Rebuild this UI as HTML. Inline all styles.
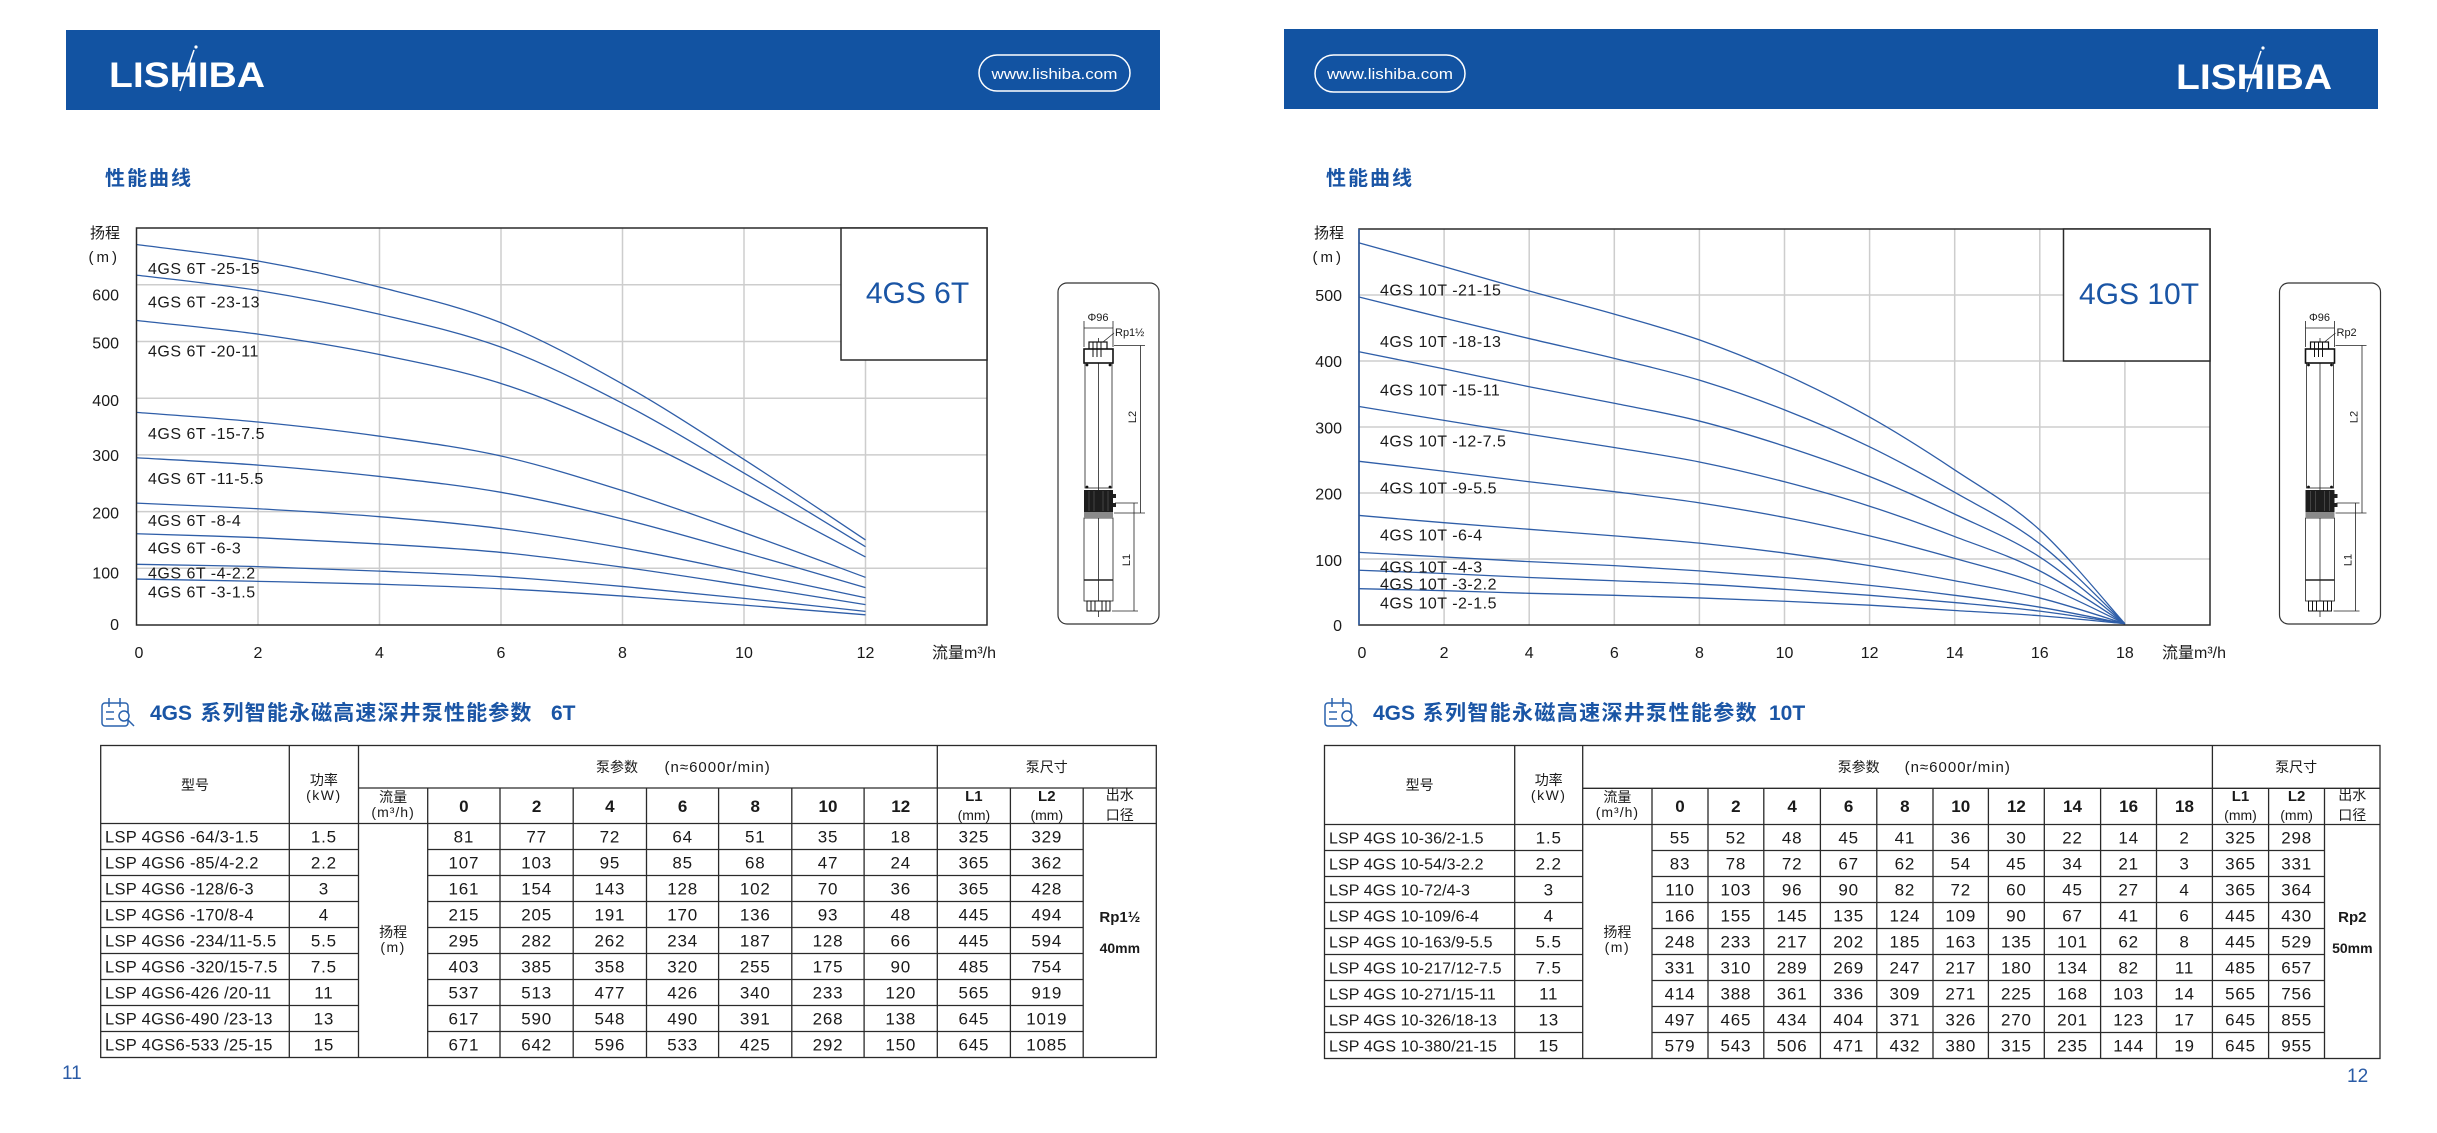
<!DOCTYPE html>
<html><head><meta charset="utf-8">
<style>
html,body{margin:0;padding:0;background:#fff;}
svg{display:block}
text{font-family:"Liberation Sans","Noto Sans CJK SC",sans-serif;fill:#1a1a1a}
.w{fill:#fff}
.b{fill:#1a55a5}
</style></head>
<body>
<svg width="2437" height="1133" viewBox="0 0 2437 1133" xmlns="http://www.w3.org/2000/svg">
<rect width="2437" height="1133" fill="#fff"/>

<!-- ===== HEADERS ===== -->
<rect x="66" y="30" width="1094" height="80" fill="#1253a2"/>
<text x="109" y="87" font-size="35" font-weight="bold" class="w" textLength="156" lengthAdjust="spacingAndGlyphs">LISHIBA</text>
<line x1="180" y1="91" x2="194" y2="50" stroke="#fff" stroke-width="1.5"/>
<circle cx="196" cy="47" r="1.6" fill="#fff"/>
<rect x="979" y="55" width="151" height="36" rx="18" fill="none" stroke="#fff" stroke-width="1.5"/>
<text x="1054.5" y="79" font-size="15" class="w" text-anchor="middle" textLength="126" lengthAdjust="spacingAndGlyphs">www.lishiba.com</text>

<rect x="1284" y="29" width="1094" height="80" fill="#1253a2"/>
<text x="2176" y="89" font-size="35" font-weight="bold" class="w" textLength="156" lengthAdjust="spacingAndGlyphs">LISHIBA</text>
<line x1="2247" y1="92" x2="2261" y2="51" stroke="#fff" stroke-width="1.5"/>
<circle cx="2263" cy="48" r="1.6" fill="#fff"/>
<rect x="1315" y="55" width="150" height="37" rx="18.5" fill="none" stroke="#fff" stroke-width="1.5"/>
<text x="1390" y="79" font-size="15" class="w" text-anchor="middle" textLength="126" lengthAdjust="spacingAndGlyphs">www.lishiba.com</text>

<text x="105" y="185" font-size="20" font-weight="bold" class="b" letter-spacing="2">性能曲线</text>
<text x="1326" y="185" font-size="20" font-weight="bold" class="b" letter-spacing="2">性能曲线</text>

<!-- ===== CHART 6T ===== -->
<g stroke="#cdcdcd" stroke-width="1.5">
<line x1="258" y1="228" x2="258" y2="625"/><line x1="379.5" y1="228" x2="379.5" y2="625"/>
<line x1="501" y1="228" x2="501" y2="625"/><line x1="622.5" y1="228" x2="622.5" y2="625"/>
<line x1="744" y1="228" x2="744" y2="625"/><line x1="865.5" y1="228" x2="865.5" y2="625"/>
<line x1="136.5" y1="568.3" x2="987" y2="568.3"/><line x1="136.5" y1="511.6" x2="987" y2="511.6"/>
<line x1="136.5" y1="454.9" x2="987" y2="454.9"/><line x1="136.5" y1="398.2" x2="987" y2="398.2"/>
<line x1="136.5" y1="341.5" x2="987" y2="341.5"/><line x1="136.5" y1="284.8" x2="987" y2="284.8"/>
</g>
<g transform="translate(136.5,625) scale(60.75,-0.567)" fill="none" stroke="#2f5ea8" stroke-width="1.3">
<polyline class="s" vector-effect="non-scaling-stroke" points="0,671 2,642 4,596 6,533 8,425 10,292 12,150"/>
<polyline class="s" vector-effect="non-scaling-stroke" points="0,617 2,590 4,548 6,490 8,391 10,268 12,138"/>
<polyline class="s" vector-effect="non-scaling-stroke" points="0,537 2,513 4,477 6,426 8,340 10,233 12,120"/>
<polyline class="s" vector-effect="non-scaling-stroke" points="0,375 2,358 4,333 6,298 8,237 10,163 12,84"/>
<polyline class="s" vector-effect="non-scaling-stroke" points="0,295 2,282 4,262 6,234 8,187 10,128 12,66"/>
<polyline class="s" vector-effect="non-scaling-stroke" points="0,215 2,205 4,191 6,170 8,136 10,93 12,48"/>
<polyline class="s" vector-effect="non-scaling-stroke" points="0,161 2,154 4,143 6,128 8,102 10,70 12,36"/>
<polyline class="s" vector-effect="non-scaling-stroke" points="0,107 2,103 4,95 6,85 8,68 10,47 12,24"/>
<polyline class="s" vector-effect="non-scaling-stroke" points="0,81 2,77 4,72 6,64 8,51 10,35 12,18"/>
</g>
<rect x="136.5" y="228" width="850.5" height="397" fill="none" stroke="#2a2a2a" stroke-width="1.5"/>
<rect x="841" y="228" width="146" height="132" fill="#fff" stroke="#2a2a2a" stroke-width="1.5"/>
<text x="917.5" y="303" font-size="30" text-anchor="middle" class="b">4GS 6T</text>

<g font-size="16" letter-spacing="0.5">
<text x="148" y="274">4GS 6T -25-15</text>
<text x="148" y="307.7">4GS 6T -23-13</text>
<text x="148" y="356.7">4GS 6T -20-11</text>
<text x="148" y="439">4GS 6T -15-7.5</text>
<text x="148" y="484">4GS 6T -11-5.5</text>
<text x="148" y="526">4GS 6T -8-4</text>
<text x="148" y="553.7">4GS 6T -6-3</text>
<text x="148" y="578.7">4GS 6T -4-2.2</text>
<text x="148" y="597.7">4GS 6T -3-1.5</text>
</g>
<g font-size="16" text-anchor="end">
<text x="119" y="300.3">600</text><text x="119" y="348.3">500</text><text x="119" y="406">400</text>
<text x="119" y="461">300</text><text x="119" y="518.3">200</text><text x="119" y="578.7">100</text>
<text x="119" y="630">0</text>
</g>
<text x="120" y="238" font-size="15" text-anchor="end">扬程</text>
<text x="120" y="262" font-size="15" text-anchor="end" letter-spacing="3">(m)</text>
<g font-size="16" text-anchor="middle">
<text x="139" y="658">0</text><text x="258" y="658">2</text><text x="379.5" y="658">4</text>
<text x="501" y="658">6</text><text x="622.5" y="658">8</text><text x="744" y="658">10</text>
<text x="865.5" y="658">12</text>
</g>
<text x="932" y="658" font-size="16">流量m³/h</text>

<!-- pump 6T -->
<rect x="1058" y="283" width="101" height="341" rx="9" fill="none" stroke="#333" stroke-width="1.2"/>
<g>
<g stroke="#222" stroke-width="0.8" fill="none">
<line x1="1084" y1="321" x2="1084" y2="347"/><line x1="1113" y1="321" x2="1113" y2="347"/>
<line x1="1084" y1="328" x2="1113" y2="328"/><line x1="1103" y1="342" x2="1114" y2="333"/>
<line x1="1098.5" y1="338" x2="1098.5" y2="617"/>
<line x1="1114" y1="345.5" x2="1145" y2="345.5"/><line x1="1114" y1="513" x2="1145" y2="513"/>
<line x1="1140.5" y1="345.5" x2="1140.5" y2="513"/>
<line x1="1115" y1="503" x2="1138" y2="503"/><line x1="1112" y1="611" x2="1138" y2="611"/>
<line x1="1134" y1="503" x2="1134" y2="611"/>
<rect x="1085" y="363" width="27" height="125"/>
<rect x="1084" y="518" width="29" height="83"/>
<line x1="1084" y1="580" x2="1113" y2="580" stroke-width="1.6"/>
</g>
<rect x="1089" y="342" width="18" height="8" fill="#fff" stroke="#111" stroke-width="1.2"/>
<rect x="1084" y="349" width="29" height="14" fill="#fff" stroke="#111" stroke-width="1.6"/>
<g stroke="#111" stroke-width="1"><line x1="1093" y1="342" x2="1093" y2="357"/><line x1="1097" y1="342" x2="1097" y2="357"/><line x1="1101" y1="342" x2="1101" y2="357"/></g>
<rect x="1084" y="490" width="29" height="22" fill="#1d1d1d"/>
<g stroke="#555" stroke-width="0.7"><line x1="1089" y1="491" x2="1089" y2="511"/><line x1="1094" y1="491" x2="1094" y2="511"/><line x1="1103" y1="491" x2="1103" y2="511"/><line x1="1108" y1="491" x2="1108" y2="511"/></g>
<rect x="1113" y="494" width="3" height="4" fill="#222"/><rect x="1113" y="503" width="3" height="4" fill="#222"/>
<rect x="1084" y="512" width="29" height="6" fill="#8a8a8a"/>
<rect x="1087" y="601" width="23" height="10" fill="#fff" stroke="#111" stroke-width="1"/>
<g stroke="#111" stroke-width="1"><line x1="1091" y1="601" x2="1091" y2="611"/><line x1="1095" y1="601" x2="1095" y2="611"/><line x1="1102" y1="601" x2="1102" y2="611"/><line x1="1106" y1="601" x2="1106" y2="611"/></g>
<circle cx="1087" cy="365" r="1.4" fill="#111"/><circle cx="1110" cy="365" r="1.4" fill="#111"/>
<circle cx="1087" cy="487" r="1.4" fill="#111"/><circle cx="1110" cy="487" r="1.4" fill="#111"/>
<text x="1098" y="321" font-size="11" text-anchor="middle">Φ96</text>
<text transform="translate(1136,417) rotate(-90)" font-size="11" text-anchor="middle">L2</text>
<text transform="translate(1130,560) rotate(-90)" font-size="11" text-anchor="middle">L1</text>
</g>
<text x="1115" y="336" font-size="11">Rp1½</text>

<!-- ===== CHART 10T ===== -->
<g stroke="#cdcdcd" stroke-width="1.5">
<line x1="1444.1" y1="229" x2="1444.1" y2="625"/><line x1="1529.2" y1="229" x2="1529.2" y2="625"/>
<line x1="1614.3" y1="229" x2="1614.3" y2="625"/><line x1="1699.4" y1="229" x2="1699.4" y2="625"/>
<line x1="1784.5" y1="229" x2="1784.5" y2="625"/><line x1="1869.6" y1="229" x2="1869.6" y2="625"/>
<line x1="1954.7" y1="229" x2="1954.7" y2="625"/><line x1="2039.8" y1="229" x2="2039.8" y2="625"/>
<line x1="2124.9" y1="229" x2="2124.9" y2="625"/>
<line x1="1359" y1="559" x2="2210" y2="559"/><line x1="1359" y1="493" x2="2210" y2="493"/>
<line x1="1359" y1="427" x2="2210" y2="427"/><line x1="1359" y1="361" x2="2210" y2="361"/>
<line x1="1359" y1="295" x2="2210" y2="295"/>
</g>
<g transform="translate(1359,625) scale(42.55,-0.66)" fill="none" stroke="#2f5ea8" stroke-width="1.3">
<polyline class="s" vector-effect="non-scaling-stroke" points="0,579 2,543 4,506 6,471 8,432 10,380 12,315 14,235 16,144 18,2"/>
<polyline class="s" vector-effect="non-scaling-stroke" points="0,497 2,465 4,434 6,404 8,371 10,326 12,270 14,201 16,123 18,2"/>
<polyline class="s" vector-effect="non-scaling-stroke" points="0,414 2,388 4,361 6,336 8,309 10,271 12,225 14,168 16,103 18,2"/>
<polyline class="s" vector-effect="non-scaling-stroke" points="0,331 2,310 4,289 6,269 8,247 10,217 12,180 14,134 16,82 18,2"/>
<polyline class="s" vector-effect="non-scaling-stroke" points="0,248 2,233 4,217 6,202 8,185 10,163 12,135 14,101 16,62 18,2"/>
<polyline class="s" vector-effect="non-scaling-stroke" points="0,166 2,155 4,145 6,135 8,124 10,109 12,90 14,67 16,41 18,2"/>
<polyline class="s" vector-effect="non-scaling-stroke" points="0,110 2,103 4,96 6,90 8,82 10,72 12,60 14,45 16,27 18,2"/>
<polyline class="s" vector-effect="non-scaling-stroke" points="0,83 2,78 4,72 6,67 8,62 10,54 12,45 14,34 16,21 18,2"/>
<polyline class="s" vector-effect="non-scaling-stroke" points="0,55 2,52 4,48 6,45 8,41 10,36 12,30 14,22 16,14 18,2"/>
</g>
<rect x="1359" y="229" width="851" height="396" fill="none" stroke="#2a2a2a" stroke-width="1.5"/>
<line x1="1359" y1="229" x2="1359" y2="625" stroke="#2f5ea8" stroke-width="1.5"/>
<rect x="2063.5" y="229" width="146.5" height="132" fill="#fff" stroke="#2a2a2a" stroke-width="1.5"/>
<text x="2139" y="304" font-size="30" text-anchor="middle" class="b">4GS 10T</text>

<g font-size="16" letter-spacing="0.5">
<text x="1380" y="295.3">4GS 10T -21-15</text>
<text x="1380" y="347">4GS 10T -18-13</text>
<text x="1380" y="395.3">4GS 10T -15-11</text>
<text x="1380" y="446.7">4GS 10T -12-7.5</text>
<text x="1380" y="493.3">4GS 10T -9-5.5</text>
<text x="1380" y="540.3">4GS 10T -6-4</text>
<text x="1380" y="572.7">4GS 10T -4-3</text>
<text x="1380" y="589.3">4GS 10T -3-2.2</text>
<text x="1380" y="608.7">4GS 10T -2-1.5</text>
</g>
<g font-size="16" text-anchor="end">
<text x="1342" y="301">500</text><text x="1342" y="367">400</text><text x="1342" y="433.7">300</text>
<text x="1342" y="499.3">200</text><text x="1342" y="566">100</text><text x="1342" y="631">0</text>
</g>
<text x="1344" y="238" font-size="15" text-anchor="end">扬程</text>
<text x="1344" y="262" font-size="15" text-anchor="end" letter-spacing="3">(m)</text>
<g font-size="16" text-anchor="middle">
<text x="1362" y="658">0</text><text x="1444.1" y="658">2</text><text x="1529.2" y="658">4</text>
<text x="1614.3" y="658">6</text><text x="1699.4" y="658">8</text><text x="1784.5" y="658">10</text>
<text x="1869.6" y="658">12</text><text x="1954.7" y="658">14</text><text x="2039.8" y="658">16</text>
<text x="2124.9" y="658">18</text>
</g>
<text x="2162" y="658" font-size="16">流量m³/h</text>

<!-- pump 10T -->
<rect x="2279.5" y="283" width="101" height="341" rx="9" fill="none" stroke="#333" stroke-width="1.2"/>
<g transform="translate(1221.5,0)">
<g stroke="#222" stroke-width="0.8" fill="none">
<line x1="1084" y1="321" x2="1084" y2="347"/><line x1="1113" y1="321" x2="1113" y2="347"/>
<line x1="1084" y1="328" x2="1113" y2="328"/><line x1="1103" y1="342" x2="1114" y2="333"/>
<line x1="1098.5" y1="338" x2="1098.5" y2="617"/>
<line x1="1114" y1="345.5" x2="1145" y2="345.5"/><line x1="1114" y1="513" x2="1145" y2="513"/>
<line x1="1140.5" y1="345.5" x2="1140.5" y2="513"/>
<line x1="1115" y1="503" x2="1138" y2="503"/><line x1="1112" y1="611" x2="1138" y2="611"/>
<line x1="1134" y1="503" x2="1134" y2="611"/>
<rect x="1085" y="363" width="27" height="125"/>
<rect x="1084" y="518" width="29" height="83"/>
<line x1="1084" y1="580" x2="1113" y2="580" stroke-width="1.6"/>
</g>
<rect x="1089" y="342" width="18" height="8" fill="#fff" stroke="#111" stroke-width="1.2"/>
<rect x="1084" y="349" width="29" height="14" fill="#fff" stroke="#111" stroke-width="1.6"/>
<g stroke="#111" stroke-width="1"><line x1="1093" y1="342" x2="1093" y2="357"/><line x1="1097" y1="342" x2="1097" y2="357"/><line x1="1101" y1="342" x2="1101" y2="357"/></g>
<rect x="1084" y="490" width="29" height="22" fill="#1d1d1d"/>
<g stroke="#555" stroke-width="0.7"><line x1="1089" y1="491" x2="1089" y2="511"/><line x1="1094" y1="491" x2="1094" y2="511"/><line x1="1103" y1="491" x2="1103" y2="511"/><line x1="1108" y1="491" x2="1108" y2="511"/></g>
<rect x="1113" y="494" width="3" height="4" fill="#222"/><rect x="1113" y="503" width="3" height="4" fill="#222"/>
<rect x="1084" y="512" width="29" height="6" fill="#8a8a8a"/>
<rect x="1087" y="601" width="23" height="10" fill="#fff" stroke="#111" stroke-width="1"/>
<g stroke="#111" stroke-width="1"><line x1="1091" y1="601" x2="1091" y2="611"/><line x1="1095" y1="601" x2="1095" y2="611"/><line x1="1102" y1="601" x2="1102" y2="611"/><line x1="1106" y1="601" x2="1106" y2="611"/></g>
<circle cx="1087" cy="365" r="1.4" fill="#111"/><circle cx="1110" cy="365" r="1.4" fill="#111"/>
<circle cx="1087" cy="487" r="1.4" fill="#111"/><circle cx="1110" cy="487" r="1.4" fill="#111"/>
<text x="1098" y="321" font-size="11" text-anchor="middle">Φ96</text>
<text transform="translate(1136,417) rotate(-90)" font-size="11" text-anchor="middle">L2</text>
<text transform="translate(1130,560) rotate(-90)" font-size="11" text-anchor="middle">L1</text>
<text x="1115" y="336" font-size="11">Rp2</text>
</g>

<!-- ===== TABLE TITLES ===== -->
<g fill="none" stroke="#2a62ad" stroke-width="1.5">
<rect x="102" y="703" width="26" height="23" rx="3"/>
<line x1="109" y1="698" x2="109" y2="707"/><line x1="120" y1="698" x2="120" y2="707"/>
<line x1="106" y1="712" x2="114" y2="712"/><line x1="106" y1="719" x2="114" y2="719"/>
<circle cx="124" cy="716" r="5" fill="#fff"/><line x1="128" y1="720" x2="134" y2="726"/>
</g>
<text x="150" y="720" font-size="21" font-weight="bold" class="b">4GS</text>
<text x="200.4" y="720" font-size="21" font-weight="bold" class="b" textLength="331" lengthAdjust="spacing">系列智能永磁高速深井泵性能参数</text>
<text x="551" y="720" font-size="21" font-weight="bold" class="b">6T</text>

<g fill="none" stroke="#2a62ad" stroke-width="1.5" transform="translate(1223,0)">
<rect x="102" y="703" width="26" height="23" rx="3"/>
<line x1="109" y1="698" x2="109" y2="707"/><line x1="120" y1="698" x2="120" y2="707"/>
<line x1="106" y1="712" x2="114" y2="712"/><line x1="106" y1="719" x2="114" y2="719"/>
<circle cx="124" cy="716" r="5" fill="#fff"/><line x1="128" y1="720" x2="134" y2="726"/>
</g>
<text x="1373" y="720" font-size="21" font-weight="bold" class="b">4GS</text>
<text x="1422.6" y="720" font-size="21" font-weight="bold" class="b" textLength="334" lengthAdjust="spacing">系列智能永磁高速深井泵性能参数</text>
<text x="1769" y="720" font-size="21" font-weight="bold" class="b">10T</text>

<!-- ===== TABLE 6T ===== -->
<g stroke="#2a2a2a" stroke-width="1.3" fill="none">
<rect x="100.7" y="745.5" width="1055.6" height="312"/>
<path d="M289.3 745.5V1057.5M358.5 745.5V1057.5M937.3 745.5V1057.5
M427.7 788V1057.5M500 788V1057.5M573.2 788V1057.5M646.5 788V1057.5M718.6 788V1057.5M791.8 788V1057.5M864.1 788V1057.5M1010.4 788V1057.5M1083.2 788V1057.5
M358.5 788H1156.3M100.7 823.5H1156.3
M100.7 849.5H358.5M427.7 849.5H1083.2
M100.7 875.5H358.5M427.7 875.5H1083.2
M100.7 901.5H358.5M427.7 901.5H1083.2
M100.7 927.5H358.5M427.7 927.5H1083.2
M100.7 953.5H358.5M427.7 953.5H1083.2
M100.7 979.5H358.5M427.7 979.5H1083.2
M100.7 1005.5H358.5M427.7 1005.5H1083.2
M100.7 1031.5H358.5M427.7 1031.5H1083.2"/>
</g>
<g font-size="14" text-anchor="middle">
<text x="195" y="790">型号</text>
<text x="323.9" y="785">功率</text>
<text x="323.9" y="800" letter-spacing="1.5">(kW)</text>
<text x="393.1" y="802">流量</text>
<text x="393.1" y="817" letter-spacing="1">(m³/h)</text>
<text x="1046.8" y="772">泵尺寸</text>
<text x="1119.8" y="800">出水</text>
<text x="1119.8" y="820">口径</text>
<text x="973.9" y="820">(mm)</text>
<text x="1046.8" y="820">(mm)</text>
<text x="393.1" y="937">扬程</text>
<text x="393.1" y="952" letter-spacing="1.5">(m)</text>
</g>
<text x="596" y="772" font-size="14">泵参数</text>
<text x="664.5" y="772" font-size="15" letter-spacing="1">(n≈6000r/min)</text>
<g font-size="17" font-weight="bold" text-anchor="middle">
<text y="812"><tspan x="463.9">0</tspan><tspan x="536.6">2</tspan><tspan x="609.9">4</tspan><tspan x="682.6">6</tspan><tspan x="755.2">8</tspan><tspan x="828">10</tspan><tspan x="900.7">12</tspan></text>
<text x="973.9" y="801" font-size="15">L1</text>
<text x="1046.8" y="801" font-size="15">L2</text>
<text x="1119.8" y="922" font-size="15">Rp1½</text>
<text x="1119.8" y="953" font-size="14">40mm</text>
</g>
<g font-size="16.5" letter-spacing="0.3">
<text x="105" y="842.5">LSP 4GS6 -64/3-1.5</text>
<text x="105" y="868.5">LSP 4GS6 -85/4-2.2</text>
<text x="105" y="894.5">LSP 4GS6 -128/6-3</text>
<text x="105" y="920.5">LSP 4GS6 -170/8-4</text>
<text x="105" y="946.5">LSP 4GS6 -234/11-5.5</text>
<text x="105" y="972.5">LSP 4GS6 -320/15-7.5</text>
<text x="105" y="998.5">LSP 4GS6-426 /20-11</text>
<text x="105" y="1024.5">LSP 4GS6-490 /23-13</text>
<text x="105" y="1050.5">LSP 4GS6-533 /25-15</text>
</g>
<g font-size="17" text-anchor="middle" letter-spacing="0.8">
<text y="842.5"><tspan x="323.9">1.5</tspan><tspan x="463.9">81</tspan><tspan x="536.6">77</tspan><tspan x="609.9">72</tspan><tspan x="682.6">64</tspan><tspan x="755.2">51</tspan><tspan x="828">35</tspan><tspan x="900.7">18</tspan><tspan x="973.9">325</tspan><tspan x="1046.8">329</tspan></text>
<text y="868.5"><tspan x="323.9">2.2</tspan><tspan x="463.9">107</tspan><tspan x="536.6">103</tspan><tspan x="609.9">95</tspan><tspan x="682.6">85</tspan><tspan x="755.2">68</tspan><tspan x="828">47</tspan><tspan x="900.7">24</tspan><tspan x="973.9">365</tspan><tspan x="1046.8">362</tspan></text>
<text y="894.5"><tspan x="323.9">3</tspan><tspan x="463.9">161</tspan><tspan x="536.6">154</tspan><tspan x="609.9">143</tspan><tspan x="682.6">128</tspan><tspan x="755.2">102</tspan><tspan x="828">70</tspan><tspan x="900.7">36</tspan><tspan x="973.9">365</tspan><tspan x="1046.8">428</tspan></text>
<text y="920.5"><tspan x="323.9">4</tspan><tspan x="463.9">215</tspan><tspan x="536.6">205</tspan><tspan x="609.9">191</tspan><tspan x="682.6">170</tspan><tspan x="755.2">136</tspan><tspan x="828">93</tspan><tspan x="900.7">48</tspan><tspan x="973.9">445</tspan><tspan x="1046.8">494</tspan></text>
<text y="946.5"><tspan x="323.9">5.5</tspan><tspan x="463.9">295</tspan><tspan x="536.6">282</tspan><tspan x="609.9">262</tspan><tspan x="682.6">234</tspan><tspan x="755.2">187</tspan><tspan x="828">128</tspan><tspan x="900.7">66</tspan><tspan x="973.9">445</tspan><tspan x="1046.8">594</tspan></text>
<text y="972.5"><tspan x="323.9">7.5</tspan><tspan x="463.9">403</tspan><tspan x="536.6">385</tspan><tspan x="609.9">358</tspan><tspan x="682.6">320</tspan><tspan x="755.2">255</tspan><tspan x="828">175</tspan><tspan x="900.7">90</tspan><tspan x="973.9">485</tspan><tspan x="1046.8">754</tspan></text>
<text y="998.5"><tspan x="323.9">11</tspan><tspan x="463.9">537</tspan><tspan x="536.6">513</tspan><tspan x="609.9">477</tspan><tspan x="682.6">426</tspan><tspan x="755.2">340</tspan><tspan x="828">233</tspan><tspan x="900.7">120</tspan><tspan x="973.9">565</tspan><tspan x="1046.8">919</tspan></text>
<text y="1024.5"><tspan x="323.9">13</tspan><tspan x="463.9">617</tspan><tspan x="536.6">590</tspan><tspan x="609.9">548</tspan><tspan x="682.6">490</tspan><tspan x="755.2">391</tspan><tspan x="828">268</tspan><tspan x="900.7">138</tspan><tspan x="973.9">645</tspan><tspan x="1046.8">1019</tspan></text>
<text y="1050.5"><tspan x="323.9">15</tspan><tspan x="463.9">671</tspan><tspan x="536.6">642</tspan><tspan x="609.9">596</tspan><tspan x="682.6">533</tspan><tspan x="755.2">425</tspan><tspan x="828">292</tspan><tspan x="900.7">150</tspan><tspan x="973.9">645</tspan><tspan x="1046.8">1085</tspan></text>
</g>

<!-- ===== TABLE 10T ===== -->
<g stroke="#2a2a2a" stroke-width="1.3" fill="none">
<rect x="1324.5" y="745.5" width="1055.5" height="313"/>
<path d="M1514.7 745.5V1058.5M1582.7 745.5V1058.5M2212.4 745.5V1058.5
M1652 788.3V1058.5M1708 788.3V1058.5M1763.8 788.3V1058.5M1820.4 788.3V1058.5M1876.8 788.3V1058.5M1933 788.3V1058.5M1988.4 788.3V1058.5M2044.3 788.3V1058.5M2100.6 788.3V1058.5M2156.5 788.3V1058.5M2268.6 788.3V1058.5M2324.5 788.3V1058.5
M1582.7 788.3H2380M1324.5 824.5H2380
M1324.5 850.5H1582.7M1652 850.5H2324.5
M1324.5 876.5H1582.7M1652 876.5H2324.5
M1324.5 902.5H1582.7M1652 902.5H2324.5
M1324.5 928.5H1582.7M1652 928.5H2324.5
M1324.5 954.5H1582.7M1652 954.5H2324.5
M1324.5 980.5H1582.7M1652 980.5H2324.5
M1324.5 1006.5H1582.7M1652 1006.5H2324.5
M1324.5 1032.5H1582.7M1652 1032.5H2324.5"/>
</g>
<g font-size="14" text-anchor="middle">
<text x="1419.6" y="790">型号</text>
<text x="1548.7" y="785">功率</text>
<text x="1548.7" y="800" letter-spacing="1.5">(kW)</text>
<text x="1617.4" y="802">流量</text>
<text x="1617.4" y="817" letter-spacing="1">(m³/h)</text>
<text x="2296.2" y="772">泵尺寸</text>
<text x="2352.3" y="800">出水</text>
<text x="2352.3" y="820">口径</text>
<text x="2240.5" y="820">(mm)</text>
<text x="2296.6" y="820">(mm)</text>
<text x="1617.4" y="937">扬程</text>
<text x="1617.4" y="952" letter-spacing="1.5">(m)</text>
</g>
<text x="1837.7" y="772" font-size="14">泵参数</text>
<text x="1904.6" y="772" font-size="15" letter-spacing="1">(n≈6000r/min)</text>
<g font-size="17" font-weight="bold" text-anchor="middle">
<text y="812"><tspan x="1680">0</tspan><tspan x="1735.9">2</tspan><tspan x="1792.1">4</tspan><tspan x="1848.6">6</tspan><tspan x="1904.9">8</tspan><tspan x="1960.7">10</tspan><tspan x="2016.4">12</tspan><tspan x="2072.5">14</tspan><tspan x="2128.6">16</tspan><tspan x="2184.5">18</tspan></text>
<text x="2240.5" y="801" font-size="15">L1</text>
<text x="2296.6" y="801" font-size="15">L2</text>
<text x="2352.3" y="922" font-size="15">Rp2</text>
<text x="2352.3" y="953" font-size="14">50mm</text>
</g>
<g font-size="16" letter-spacing="0.1">
<text x="1329" y="843.5">LSP 4GS 10-36/2-1.5</text>
<text x="1329" y="869.5">LSP 4GS 10-54/3-2.2</text>
<text x="1329" y="895.5">LSP 4GS 10-72/4-3</text>
<text x="1329" y="921.5">LSP 4GS 10-109/6-4</text>
<text x="1329" y="947.5">LSP 4GS 10-163/9-5.5</text>
<text x="1329" y="973.5">LSP 4GS 10-217/12-7.5</text>
<text x="1329" y="999.5">LSP 4GS 10-271/15-11</text>
<text x="1329" y="1025.5">LSP 4GS 10-326/18-13</text>
<text x="1329" y="1051.5">LSP 4GS 10-380/21-15</text>
</g>
<g font-size="17" text-anchor="middle" letter-spacing="0.8">
<text y="843.5"><tspan x="1548.7">1.5</tspan><tspan x="1680">55</tspan><tspan x="1735.9">52</tspan><tspan x="1792.1">48</tspan><tspan x="1848.6">45</tspan><tspan x="1904.9">41</tspan><tspan x="1960.7">36</tspan><tspan x="2016.4">30</tspan><tspan x="2072.5">22</tspan><tspan x="2128.6">14</tspan><tspan x="2184.5">2</tspan><tspan x="2240.5">325</tspan><tspan x="2296.6">298</tspan></text>
<text y="869.5"><tspan x="1548.7">2.2</tspan><tspan x="1680">83</tspan><tspan x="1735.9">78</tspan><tspan x="1792.1">72</tspan><tspan x="1848.6">67</tspan><tspan x="1904.9">62</tspan><tspan x="1960.7">54</tspan><tspan x="2016.4">45</tspan><tspan x="2072.5">34</tspan><tspan x="2128.6">21</tspan><tspan x="2184.5">3</tspan><tspan x="2240.5">365</tspan><tspan x="2296.6">331</tspan></text>
<text y="895.5"><tspan x="1548.7">3</tspan><tspan x="1680">110</tspan><tspan x="1735.9">103</tspan><tspan x="1792.1">96</tspan><tspan x="1848.6">90</tspan><tspan x="1904.9">82</tspan><tspan x="1960.7">72</tspan><tspan x="2016.4">60</tspan><tspan x="2072.5">45</tspan><tspan x="2128.6">27</tspan><tspan x="2184.5">4</tspan><tspan x="2240.5">365</tspan><tspan x="2296.6">364</tspan></text>
<text y="921.5"><tspan x="1548.7">4</tspan><tspan x="1680">166</tspan><tspan x="1735.9">155</tspan><tspan x="1792.1">145</tspan><tspan x="1848.6">135</tspan><tspan x="1904.9">124</tspan><tspan x="1960.7">109</tspan><tspan x="2016.4">90</tspan><tspan x="2072.5">67</tspan><tspan x="2128.6">41</tspan><tspan x="2184.5">6</tspan><tspan x="2240.5">445</tspan><tspan x="2296.6">430</tspan></text>
<text y="947.5"><tspan x="1548.7">5.5</tspan><tspan x="1680">248</tspan><tspan x="1735.9">233</tspan><tspan x="1792.1">217</tspan><tspan x="1848.6">202</tspan><tspan x="1904.9">185</tspan><tspan x="1960.7">163</tspan><tspan x="2016.4">135</tspan><tspan x="2072.5">101</tspan><tspan x="2128.6">62</tspan><tspan x="2184.5">8</tspan><tspan x="2240.5">445</tspan><tspan x="2296.6">529</tspan></text>
<text y="973.5"><tspan x="1548.7">7.5</tspan><tspan x="1680">331</tspan><tspan x="1735.9">310</tspan><tspan x="1792.1">289</tspan><tspan x="1848.6">269</tspan><tspan x="1904.9">247</tspan><tspan x="1960.7">217</tspan><tspan x="2016.4">180</tspan><tspan x="2072.5">134</tspan><tspan x="2128.6">82</tspan><tspan x="2184.5">11</tspan><tspan x="2240.5">485</tspan><tspan x="2296.6">657</tspan></text>
<text y="999.5"><tspan x="1548.7">11</tspan><tspan x="1680">414</tspan><tspan x="1735.9">388</tspan><tspan x="1792.1">361</tspan><tspan x="1848.6">336</tspan><tspan x="1904.9">309</tspan><tspan x="1960.7">271</tspan><tspan x="2016.4">225</tspan><tspan x="2072.5">168</tspan><tspan x="2128.6">103</tspan><tspan x="2184.5">14</tspan><tspan x="2240.5">565</tspan><tspan x="2296.6">756</tspan></text>
<text y="1025.5"><tspan x="1548.7">13</tspan><tspan x="1680">497</tspan><tspan x="1735.9">465</tspan><tspan x="1792.1">434</tspan><tspan x="1848.6">404</tspan><tspan x="1904.9">371</tspan><tspan x="1960.7">326</tspan><tspan x="2016.4">270</tspan><tspan x="2072.5">201</tspan><tspan x="2128.6">123</tspan><tspan x="2184.5">17</tspan><tspan x="2240.5">645</tspan><tspan x="2296.6">855</tspan></text>
<text y="1051.5"><tspan x="1548.7">15</tspan><tspan x="1680">579</tspan><tspan x="1735.9">543</tspan><tspan x="1792.1">506</tspan><tspan x="1848.6">471</tspan><tspan x="1904.9">432</tspan><tspan x="1960.7">380</tspan><tspan x="2016.4">315</tspan><tspan x="2072.5">235</tspan><tspan x="2128.6">144</tspan><tspan x="2184.5">19</tspan><tspan x="2240.5">645</tspan><tspan x="2296.6">955</tspan></text>
</g>

<!-- page numbers -->
<text x="62" y="1079" font-size="19" style="fill:#2a5ba6">11</text>
<text x="2347" y="1082" font-size="19" style="fill:#2a5ba6">12</text>
</svg>
<script>
(function(){
  var pls = document.querySelectorAll('polyline.s');
  for (var k = 0; k < pls.length; k++) {
    var pl = pls[k];
    var pts = pl.getAttribute('points').trim().split(/\s+/).map(function(p){return p.split(',').map(Number);});
    var d = 'M' + pts[0][0] + ',' + pts[0][1];
    for (var i = 0; i < pts.length - 1; i++) {
      var p0 = pts[i-1] || pts[i], p1 = pts[i], p2 = pts[i+1], p3 = pts[i+2] || pts[i+1];
      var c1x = p1[0] + (p2[0]-p0[0])/6, c1y = p1[1] + (p2[1]-p0[1])/6;
      var c2x = p2[0] - (p3[0]-p1[0])/6, c2y = p2[1] - (p3[1]-p1[1])/6;
      d += ' C' + c1x + ',' + c1y + ' ' + c2x + ',' + c2y + ' ' + p2[0] + ',' + p2[1];
    }
    var path = document.createElementNS('http://www.w3.org/2000/svg', 'path');
    path.setAttribute('d', d);
    path.setAttribute('vector-effect', 'non-scaling-stroke');
    pl.parentNode.replaceChild(path, pl);
  }
})();
</script>
</body></html>
